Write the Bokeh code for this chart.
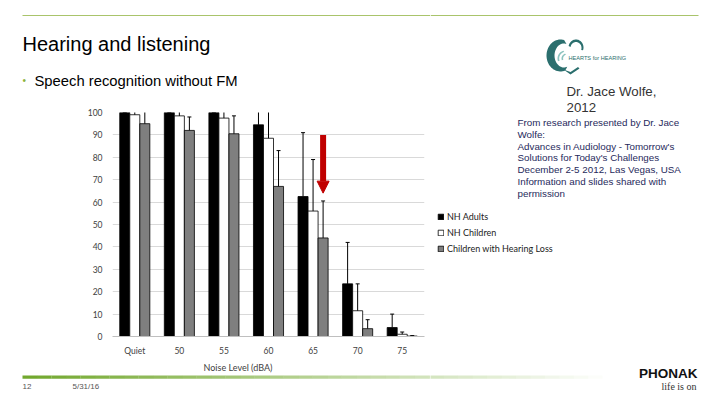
import numpy as np
from bokeh.plotting import figure
from bokeh.layouts import row, column
from bokeh.models import (ColumnDataSource, Label, Legend, LegendItem, Range1d, Title,
                          FactorRange, Arrow, NormalHead, BoxAnnotation, PolyAnnotation)
from bokeh.transform import dodge
from bokeh.embed import file_html
from bokeh.resources import INLINE

# ---------------- data ----------------
categories = ["Quiet", "50", "55", "60", "65", "70", "75"]
series_names = ["NH Adults", "NH Children", "Children with Hearing Loss"]
nh_adults = [100, 100, 100, 94.5, 62.5, 23.5, 4]
nh_adults_err = [100, 100, 100, 100.5, 91, 42, 10]
nh_children = [99, 98.5, 97.5, 88.5, 56, 11.5, 1]
nh_children_err = [100.5, 100.5, 100.5, 100.5, 79, 23.5, 2]
hl_children = [95, 92, 90.5, 67, 44, 3.5, 0.2]
hl_children_err = [100.5, 98, 98.5, 83, 60.5, 7.5, 0.4]
y_ticks = [0, 10, 20, 30, 40, 50, 60, 70, 80, 90, 100]
arrow_cat = ["65"]
arrow_from = [90]
arrow_to = [64]

x_title = "Noise Level (dBA)"
slide_title = "Hearing and listening"
bullet_text = "Speech recognition without FM"
author_lines = ["Dr. Jace Wolfe,", "2012"]
source_lines = ["From research presented by Dr. Jace", "Wolfe:",
                "Advances in Audiology - Tomorrow's", "Solutions for Today's Challenges",
                "December 2-5 2012, Las Vegas, USA", "Information and slides shared with",
                "permission"]

# ---------------- layout (page pixels) ----------------
LW, RW = 430, 290            # left column / right panel widths
TOP_H, CH_H, FOOT_H = 98, 276, 31
FL, FR, FT, FB = 112, 424, 112, 337   # chart frame edges
TEAL = "#2B6F6E"


def blank(x0, x1, y0, y1):
    f = figure(width=int(x1 - x0), height=int(y1 - y0), output_backend="svg",
               toolbar_location=None, x_range=Range1d(x0, x1), y_range=Range1d(y1, y0),
               x_axis_location=None, y_axis_location=None, min_border=0)
    f.outline_line_color = None
    f.grid.grid_line_color = None
    f.background_fill_color = "white"
    f.border_fill_color = "white"
    return f


def lab(f, X, Y, text, size, color, font="Liberation Sans", align="left",
        style="normal", baseline="middle"):
    f.add_layout(Label(x=X, y=Y, text=text, text_font_size=f"{size}px", text_color=color,
                       text_font=font, text_align=align, text_baseline=baseline,
                       text_font_style=style))


def box(f, X0, X1, Y0, Y1, color, alpha=1.0):
    f.add_layout(BoxAnnotation(left=X0, right=X1, top=Y0, bottom=Y1,
                               fill_color=color, fill_alpha=alpha, line_color=None))


def gradient_bar(f):
    for k in range(40):
        x0 = 22 + k * 14.5
        box(f, x0, x0 + 14.6, 375, 378.3, "#72A82E", alpha=1 - k / 40)


def arc_band(f, c_out, r_out, c_in, r_in, a0, a1, color):
    t = np.radians(np.linspace(a0, a1, 40))
    xs = np.r_[c_out[0] + r_out[0] * np.cos(t), c_in[0] + r_in[0] * np.cos(t[::-1])]
    ys = np.r_[c_out[1] - r_out[1] * np.sin(t), c_in[1] - r_in[1] * np.sin(t[::-1])]
    f.add_layout(PolyAnnotation(xs=list(xs), ys=list(ys), fill_color=color,
                                fill_alpha=1, line_color=None))


# ---------------- chart ----------------
p = figure(width=LW, height=CH_H, output_backend="svg", toolbar_location=None,
           x_range=FactorRange(*categories, range_padding=0), y_range=Range1d(0, 100),
           min_border_left=FL, min_border_right=LW - FR,
           min_border_top=FT - TOP_H, min_border_bottom=TOP_H + CH_H - FB)
p.outline_line_color = None
p.background_fill_color = "white"
p.border_fill_color = "white"
p.xgrid.grid_line_color = None
p.ygrid.grid_line_color = "#D9D9D9"
p.yaxis.ticker = y_ticks
p.yaxis.axis_line_color = None
p.yaxis.major_tick_line_color = None
p.yaxis.minor_tick_line_color = None
p.yaxis.major_tick_out = 0
p.yaxis.minor_tick_out = 0
p.yaxis.major_label_standoff = 10
p.xaxis.axis_line_color = "#BFBFBF"
p.xaxis.major_tick_line_color = None
p.xaxis.major_tick_out = 0
p.xaxis.major_label_standoff = 9
for ax in (p.xaxis, p.yaxis):
    ax.major_label_text_font = "Lato"
    ax.major_label_text_font_size = "8.5px"
    ax.major_label_text_color = "#404040"
p.add_layout(Title(text=x_title, align="left", offset=203 - FL, standoff=3,
                   text_font="Lato", text_font_size="9px", text_font_style="normal",
                   text_color="#404040"), "below")

src = ColumnDataSource(dict(cat=categories, a=nh_adults, ae=nh_adults_err,
                            c=nh_children, ce=nh_children_err,
                            h=hl_children, he=hl_children_err))
offs = [-0.225, 0.0, 0.225]
fills = ["#000000", "#FFFFFF", "#7F7F7F"]
cols = [("a", "ae"), ("c", "ce"), ("h", "he")]
for off, fc, (v, e) in zip(offs, fills, cols):
    xd = dodge("cat", off, range=p.x_range)
    p.vbar(x=xd, top=v, bottom=0, width=0.225, source=src,
           fill_color=fc, line_color="#000000", line_width=0.8)
    p.segment(x0=xd, x1=xd, y0=v, y1=e, source=src, line_color="#000000", line_width=1)
    p.scatter(x=xd, y=e, source=src, marker="dash", size=4,
              line_color="#000000", line_width=1)

asrc = ColumnDataSource(dict(cat=arrow_cat, y0=arrow_from, y1=arrow_to))
ax_ = dodge("cat", 0.225, range=p.x_range)
p.add_layout(Arrow(end=NormalHead(size=12, fill_color="#C00000", line_color="#C00000"),
                   x_start=ax_, y_start="y0", x_end=ax_, y_end="y1",
                   line_color="#C00000", line_width=6, source=asrc))

# ---------------- top-left: title & bullet ----------------
tl = blank(0, LW, 0, TOP_H)
box(tl, 22, LW, 14.5, 15.5, "#A9C46B")
lab(tl, 22, 43, slide_title, 20, "#000000")
lab(tl, 22, 80, "\u2022", 10, "#8DB33A")
lab(tl, 34, 80, bullet_text, 14.8, "#000000")

# ---------------- footer-left ----------------
fl = blank(0, LW, TOP_H + CH_H, TOP_H + CH_H + FOOT_H)
gradient_bar(fl)
lab(fl, 22, 385.5, "12", 8, "#555555")
lab(fl, 72, 385.5, "5/31/16", 8, "#555555")

# ---------------- right panel ----------------
rp = blank(LW, LW + RW, 0, 405)
box(rp, LW, 698, 14.5, 15.5, "#A9C46B")
gradient_bar(rp)
# heart logo (approximate)
arc_band(rp, (560, 55), (14, 16), (563.5, 55), (9.5, 12), 75, 290, TEAL)
arc_band(rp, (575.5, 47), (7.5, 8), (575.5, 47.5), (5.5, 6), 170, -20, TEAL)
arc_band(rp, (565, 58), (8, 8), (565.5, 58), (6.8, 6.8), 105, 200, "#8CC3BF")
arc_band(rp, (566, 58), (5, 5), (566.5, 58), (3.9, 3.9), 105, 200, "#8CC3BF")
rp.add_layout(PolyAnnotation(xs=[563, 570, 579, 577.5, 570], ys=[69, 74, 68, 66.5, 71.5],
                             fill_color=TEAL, fill_alpha=1, line_color=None))
lab(rp, 568, 57.5, "HEARTS for HEARING", 5.6, TEAL)
lab(rp, 566, 91, author_lines[0], 13.3, "#333333")
lab(rp, 566, 107, author_lines[1], 13.3, "#333333")
for i, t in enumerate(source_lines):
    lab(rp, 517, 121.7 + 11.9 * i, t, 9.8, "#1F2A5C")

leg_src = ColumnDataSource(dict(x=[np.nan], top=[np.nan]))
leg_r = [rp.vbar(x="x", top="top", bottom=0, width=1, source=leg_src, fill_color=fc,
                 line_color="#000000", line_width=0.8) for fc in fills]
legend = Legend(items=[LegendItem(label=n, renderers=[r]) for n, r in zip(series_names, leg_r)],
                location=(437 - LW, 405 - 253.5), orientation="vertical",
                glyph_width=7, glyph_height=7, label_height=8, spacing=5,
                label_standoff=3, padding=0, margin=0,
                border_line_color=None, background_fill_alpha=0,
                label_text_font="Lato", label_text_font_size="9px",
                label_text_color="#222222")
rp.add_layout(legend)
lab(rp, 697, 373, "PHONAK", 13.5, "#111111", align="right", style="bold")
lab(rp, 696, 385.5, "life is on", 10, "#333333", font="Liberation Serif", align="right")

layout = row(column(tl, row(p), fl, spacing=0), rp, spacing=0)
open("out.html", "w").write(file_html(layout, INLINE))
